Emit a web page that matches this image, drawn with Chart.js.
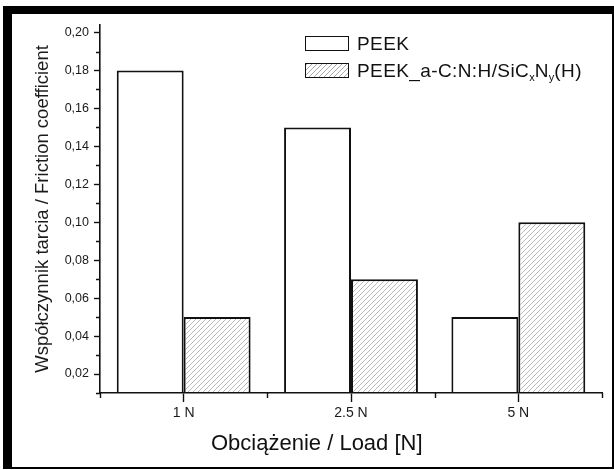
<!DOCTYPE html>
<html><head><meta charset="utf-8">
<script src="https://cdn.jsdelivr.net/npm/chart.js@4.4.1/dist/chart.umd.min.js"></script>
<style>
html,body{margin:0;padding:0;background:#fff;}
#wrap{position:relative;width:614px;height:470px;overflow:hidden;}
#c{position:absolute;left:0;top:0;}
.leg{position:absolute;font-family:"Liberation Sans",Arial,sans-serif;font-size:19px;line-height:19px;color:#111;letter-spacing:0.4px;white-space:nowrap;}
.leg sub{font-size:11px;vertical-align:baseline;position:relative;top:4px;letter-spacing:0;}
.box{position:absolute;box-sizing:border-box;border:1.6px solid #111;width:44px;height:15px;background:#fff;}
.hatch{background:repeating-linear-gradient(135deg,#a8a8a8 0px,#a8a8a8 0.8px,#fff 0.8px,#fff 3.54px);}
</style></head>
<body>
<div id="wrap">
<canvas id="c" width="614" height="470"></canvas>
<div class="box" style="left:305px;top:36px;"></div>
<div class="leg" style="left:357px;top:34px;">PEEK</div>
<div class="box hatch" style="left:305px;top:63px;"></div>
<div class="leg" style="left:357px;top:61px;">PEEK_a-C:N:H/SiC<sub>x</sub>N<sub>y</sub>(H)</div>
</div>
<script>
const categories = ['1 N', '2.5 N', '5 N'];
const seriesNames = ['PEEK', 'PEEK_a-C:N:H/SiCxNy(H)'];
const peekValues = [0.18, 0.15, 0.05];
const coatedValues = [0.05, 0.07, 0.10];
const yMin = 0.01, yMax = 0.204, yStep = 0.01;
const yTitle = 'Współczynnik tarcia / Friction coefficient';
const xTitle = 'Obciążenie / Load [N]';

Chart.defaults.font.family = '"Liberation Sans", Arial, sans-serif';
Chart.defaults.color = '#1a1a1a';

function makeHatch() {
  const t = document.createElement('canvas');
  t.width = 5; t.height = 5;
  const g = t.getContext('2d');
  g.fillStyle = '#fff'; g.fillRect(0, 0, 5, 5);
  g.strokeStyle = '#a8a8a8'; g.lineWidth = 0.8;
  g.beginPath();
  g.moveTo(-1, 6); g.lineTo(6, -1);
  g.moveTo(-1, 1); g.lineTo(1, -1);
  g.moveTo(4, 6); g.lineTo(6, 4);
  g.stroke();
  return document.getElementById('c').getContext('2d').createPattern(t, 'repeat');
}
const isMajor = v => Math.round(v * 100) % 2 === 0;

const framePlugin = {
  id: 'frame',
  beforeDraw(chart) {
    const ctx = chart.ctx;
    ctx.save();
    ctx.fillStyle = '#fff'; ctx.fillRect(0, 0, chart.width, chart.height);
    ctx.fillStyle = '#000';
    ctx.fillRect(3, 6, 9, 463);
    ctx.fillRect(3, 6, 611, 8);
    ctx.fillRect(612, 6, 2, 463);
    ctx.fillRect(3, 467, 611, 2);
    ctx.restore();
  },
  afterDraw(chart) {
    const ctx = chart.ctx;
    const x = chart.scales.x, y = chart.scales.y;
    const a = chart.chartArea;
    ctx.save();
    ctx.strokeStyle = '#111'; ctx.lineWidth = 1.4;
    ctx.beginPath();
    for (let k = 0; k < y.ticks.length; k++) {
      const v = y.ticks[k].value;
      if (!isMajor(v)) {
        const py = Math.round(y.getPixelForValue(v)) + 0.5;
        ctx.moveTo(a.left - 4, py); ctx.lineTo(a.left, py);
      }
    }
    const n = categories.length;
    for (let i = 0; i <= n; i++) {
      let px;
      if (i === 0) px = a.left;
      else if (i === n) px = a.right;
      else px = (x.getPixelForValue(i - 1) + x.getPixelForValue(i)) / 2;
      px = Math.round(px) + 0.5;
      ctx.moveTo(px, a.bottom); ctx.lineTo(px, a.bottom + 5);
    }
    ctx.stroke();
    ctx.fillStyle = '#111';
    ctx.font = '22px "Liberation Sans", Arial, sans-serif';
    ctx.textAlign = 'left'; ctx.textBaseline = 'alphabetic';
    ctx.fillText(xTitle, a.left + 111, a.bottom + 56.5);
    ctx.restore();
  }
};

const hatch = makeHatch();
new Chart(document.getElementById('c'), {
  type: 'bar',
  data: {
    labels: categories,
    datasets: [
      { label: seriesNames[0], data: peekValues, backgroundColor: '#fff', borderColor: '#111', borderWidth: 2, categoryPercentage: 0.8, barPercentage: 1.0 },
      { label: seriesNames[1], data: coatedValues, backgroundColor: hatch, borderColor: '#111', borderWidth: 2, categoryPercentage: 0.8, barPercentage: 1.0 }
    ]
  },
  options: {
    responsive: false,
    animation: false,
    devicePixelRatio: 1,
    layout: { padding: { left: 0, top: 25, right: 12, bottom: 0 } },
    plugins: { legend: { display: false }, tooltip: { enabled: false }, title: { display: false } },
    scales: {
      x: {
        afterFit(s) { s.height = 77; },
        grid: { display: true, drawOnChartArea: false, offset: false, drawTicks: true, tickLength: 9, tickWidth: 1.4, tickColor: '#111' },
        border: { display: true, color: '#111', width: 1.6, z: 1 },
        ticks: { font: { size: 14 }, padding: 3, color: '#1a1a1a' }
      },
      y: {
        min: yMin, max: yMax,
        afterFit(s) { s.width = 100; },
        grid: { display: true, drawOnChartArea: false, drawTicks: true, tickLength: 6, tickWidth: 1.4,
                tickColor: c => (c.tick && isMajor(c.tick.value)) ? '#111' : 'rgba(0,0,0,0)' },
        border: { display: true, color: '#111', width: 1.6, z: 1 },
        ticks: {
          stepSize: yStep, includeBounds: false, autoSkip: false, padding: 5,
          font: { size: 12.5 }, color: '#1a1a1a',
          callback: v => isMajor(v) ? (Math.round(v * 100) / 100).toFixed(2).replace('.', ',') : ''
        },
        title: { display: true, text: yTitle, font: { size: 18.5 }, color: '#1a1a1a', padding: { top: 32, bottom: 0 } }
      }
    }
  },
  plugins: [framePlugin]
});
</script>
</body></html>
